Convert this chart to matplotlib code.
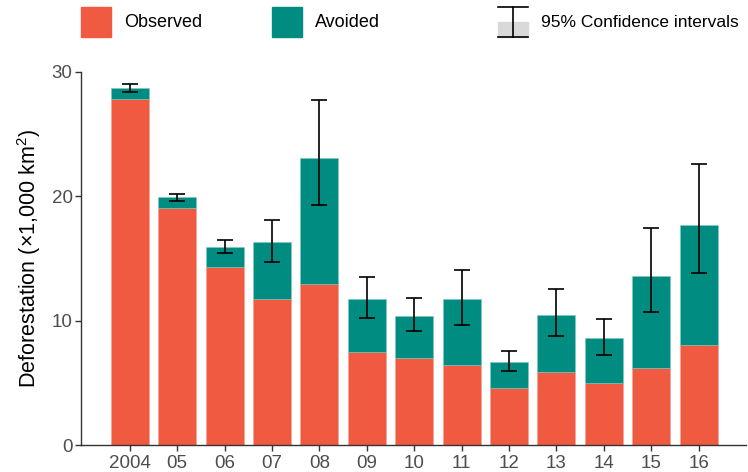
import matplotlib
matplotlib.use("Agg")
import matplotlib.pyplot as plt
import numpy as np

plt.rcParams['font.family'] = ['Liberation Sans', 'DejaVu Sans']
plt.rcParams['mathtext.fontset'] = 'custom'
plt.rcParams['mathtext.rm'] = 'Liberation Sans'

years = ["2004", "05", "06", "07", "08", "09", "10", "11", "12", "13", "14", "15", "16"]
observed = [27.8, 19.05, 14.3, 11.7, 12.9, 7.45, 6.97, 6.43, 4.55, 5.84, 4.98, 6.19, 8.0]
total = [28.7, 19.9, 15.9, 16.3, 23.1, 11.76, 10.4, 11.7, 6.65, 10.47, 8.57, 13.58, 17.68]
ci_low = [28.4, 19.6, 15.4, 14.7, 19.3, 10.2, 9.2, 9.67, 5.92, 8.76, 7.26, 10.67, 13.8]
ci_high = [29.0, 20.2, 16.5, 18.05, 27.75, 13.5, 11.8, 14.1, 7.56, 12.54, 10.15, 17.4, 22.6]

RED = "#F05A40"
TEAL = "#008C80"
GREY = "#4D4D4D"

W, H = 748, 472
fig = plt.figure(figsize=(W / 100, H / 100), dpi=100)
ax = fig.add_axes([81 / W, 1 - 445 / H, (746 - 81) / W, (445 - 71.7) / H])

x = np.arange(len(years))
avoided = np.array(total) - np.array(observed)
ax.bar(x, observed, width=0.8, color=RED, edgecolor="#f6a090", linewidth=0.4)
ax.bar(x, avoided, width=0.8, bottom=observed, color=TEAL, edgecolor="#7fc9c2", linewidth=0.4)

mid = np.array(total)
err = [mid - np.array(ci_low), np.array(ci_high) - mid]
ax.errorbar(x, mid, yerr=err, fmt="none", ecolor="black", elinewidth=1.2,
            capsize=6, capthick=1.2)

ax.set_xlim(-1.03, 13.0)
ax.set_ylim(0, 30)
ax.set_xticks(x)
ax.set_xticklabels(years)
ax.set_yticks([0, 10, 20, 30])
ax.tick_params(axis="both", colors="#333333", labelcolor=GREY, labelsize=13.5,
               length=4, width=1)
ax.tick_params(axis="x", pad=3)
ax.tick_params(axis="y", pad=2)
for s in ["top", "right"]:
    ax.spines[s].set_visible(False)
for s in ["left", "bottom"]:
    ax.spines[s].set_color("#333333")
    ax.spines[s].set_linewidth(1)
ax.set_ylabel(r"Deforestation (×1,000 km$^2$)", fontsize=15.5, color="black", labelpad=6)

# legend drawn in pixel coordinates
lg = fig.add_axes([0, 0, 1, 1], facecolor="none")
lg.set_xlim(0, W)
lg.set_ylim(H, 0)
lg.axis("off")
lg.add_patch(plt.Rectangle((81, 7), 30, 30, color=RED))
lg.text(124, 22.5, "Observed", fontsize=13, va="center", ha="left")
lg.add_patch(plt.Rectangle((272, 7), 30, 30, color=TEAL))
lg.text(315, 22.5, "Avoided", fontsize=13, va="center", ha="left")
lg.add_patch(plt.Rectangle((498, 22), 30, 15, color="#D9D9D9"))
lg.plot([513, 513], [7, 37], color="black", lw=1.2)
lg.plot([498, 528], [7, 7], color="black", lw=1.2)
lg.plot([498, 528], [37, 37], color="black", lw=1.2)
lg.text(541, 22.5, "95% Confidence intervals", fontsize=12.5, va="center", ha="left")

fig.savefig("out.png", dpi=100)
